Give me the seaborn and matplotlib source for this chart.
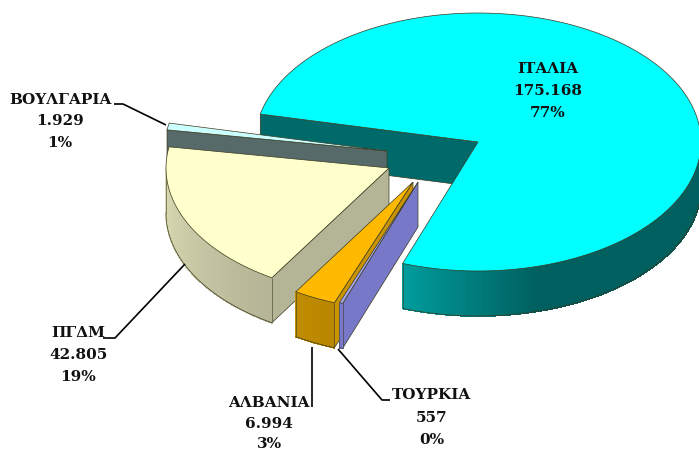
import numpy as np
import matplotlib
matplotlib.use("Agg")
import matplotlib.pyplot as plt
from matplotlib.colors import to_rgb
import seaborn as sns

sns.set_theme(style="white")
plt.rcParams['font.family'] = ['DejaVu Serif']

names = ["ΙΤΑΛΙΑ", "ΤΟΥΡΚΙΑ", "ΑΛΒΑΝΙΑ", "ΠΓΔΜ", "ΒΟΥΛΓΑΡΙΑ"]
values = [175168, 557, 6994, 42805, 1929]
value_labels = ["175.168", "557", "6.994", "42.805", "1.929"]
pct_labels = ["77%", "0%", "3%", "19%", "1%"]

top_colors = ["#00FFFF", "#A5A5F0", "#FFB900", "#FFFFCC", "#CCFFFF"]
wall_colors = ["#006A6A", "#7878C8", "#C99400", "#B4B496", "#566A6A"]
rim_light = ["#009C9C", "#7878C8", "#C08C00", "#DCDCB4", "#566A6A"]
rim_dark = ["#005F5F", "#7878C8", "#B88600", "#B4B496", "#566A6A"]

apex_x = [478, 418, 413, 389, 387]
apex_y = [143, 183, 183, 169, 152]
label_x = [548, 432, 269, 78, 60]
label_y = [[69, 91, 113], [395, 418, 440], [403, 424, 444], [333, 355, 377], [100, 121, 143]]
leader_x = [None, [390, 382, 338], [312, 312], [103, 115, 185], [114, 123, 166]]
leader_y = [None, [401, 401, 350], [408, 348], [339, 339, 265], [105, 105, 126]]

START = 167.5
RX, RY, DEPTH = 223, 129, 45
EDGE = "#3A3A20"

fig = plt.figure(figsize=(6.99, 4.52), dpi=100)
ax = fig.add_axes([0, 0, 1, 1])
ax.set_xlim(0, 699)
ax.set_ylim(452, 0)
ax.axis("off")

shares = np.array(values) / np.sum(values) * 360
ends = START - np.cumsum(shares)
starts = ends + shares


def pt(i, deg):
    a = np.radians(deg)
    return apex_x[i] + RX * np.cos(a), apex_y[i] - RY * np.sin(a)


def draw_slice(i, zbase):
    s, e = starts[i], ends[i]
    cx, cy = apex_x[i], apex_y[i]
    # radial wall at the slice's first edge, seen from the front
    px, py = pt(i, s)
    ax.fill([cx, px, px, cx], [cy, py, py + DEPTH, cy + DEPTH],
            fc=wall_colors[i], ec=EDGE, lw=0.5, zorder=zbase)
    # outer rim: only the part on the lower half of the ellipse faces the viewer
    a0, a1 = max(e, -180), min(s, 0)
    if a1 > a0:
        grid = np.append(np.arange(a0, a1, 1.0), a1)
        light, dark = np.array(to_rgb(rim_light[i])), np.array(to_rgb(rim_dark[i]))
        for g0, g1 in zip(grid[:-1], grid[1:]):
            x0, y0 = pt(i, g0)
            x1, y1 = pt(i, g1)
            if i == 0:
                frac = np.clip((g0 - a0) / 35, 0, 1)
            else:
                frac = np.clip((g0 - a0) / max(a1 - a0, 1), 0, 1)
            c = light * (1 - frac) + dark * frac
            ax.fill([x0, x1, x1, x0], [y0, y1, y1 + DEPTH, y0 + DEPTH], fc=c, ec=c, lw=0.6,
                    antialiased=False, zorder=zbase + 0.1)
        d = np.linspace(a0, a1, 200)
        xs, ys = pt(i, d)
        ax.plot(xs, ys + DEPTH, color=EDGE, lw=0.5, zorder=zbase + 0.2)
        for g in (a0, a1):
            x, y = pt(i, g)
            ax.plot([x, x], [y, y + DEPTH], color=EDGE, lw=0.4, zorder=zbase + 0.2)
    # top face
    xs, ys = pt(i, np.linspace(s, e, max(4, int(shares[i] * 2))))
    ax.fill(np.r_[cx, xs], np.r_[cy, ys], fc=top_colors[i], ec=EDGE, lw=0.5, zorder=zbase + 0.3)


# back to front painter's order
for z, i in enumerate([0, 4, 3, 2, 1]):
    draw_slice(i, z + 1)

for i, n in enumerate(names):
    for txt, y in zip([n, value_labels[i], pct_labels[i]], label_y[i]):
        ax.text(label_x[i], y, txt, ha="center", va="center", fontsize=11,
                fontweight="bold", color="#111111", zorder=20)
    if leader_x[i] is not None:
        ax.plot(leader_x[i], leader_y[i], color="black", lw=1.2, zorder=10,
                solid_capstyle="butt")

fig.savefig("out.png", dpi=100, facecolor="white")
